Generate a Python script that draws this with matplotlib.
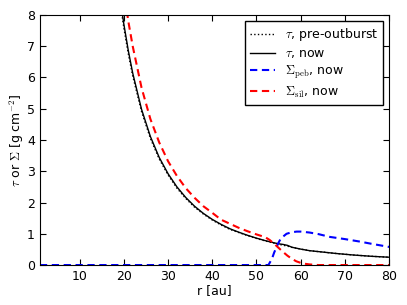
import matplotlib
matplotlib.use('Agg')
import matplotlib.pyplot as plt

# values
r_tau = [18, 19, 20, 21, 22, 24, 26, 28, 30, 32, 34, 36, 38, 40, 42, 44, 46, 48, 50,
         52, 54, 55, 56, 57, 58, 60, 62, 64, 66, 68, 70, 72, 74, 76, 78, 80]
tau_now = [9.9, 8.7, 7.7, 6.86, 6.14, 4.98, 4.11, 3.44, 2.92, 2.50, 2.16, 1.88, 1.65, 1.46,
           1.30, 1.16, 1.05, 0.95, 0.86, 0.78, 0.71, 0.68, 0.66, 0.63, 0.57, 0.51, 0.46,
           0.43, 0.40, 0.37, 0.345, 0.32, 0.30, 0.28, 0.265, 0.25]
tau_pre = [9.75, 8.57, 7.58, 6.76, 6.05, 4.91, 4.05, 3.39, 2.88, 2.46, 2.13, 1.85, 1.63, 1.44,
           1.28, 1.14, 1.04, 0.94, 0.85, 0.77, 0.70, 0.665, 0.635, 0.605, 0.565, 0.51, 0.46,
           0.43, 0.40, 0.37, 0.345, 0.32, 0.30, 0.28, 0.265, 0.25]

r_peb = [1, 10, 20, 30, 40, 50, 52.7, 53.5, 54, 54.9, 55.5, 56.8, 58, 59.1, 60, 62, 64,
         66.6, 70, 73.4, 76, 80]
sig_peb = [0, 0, 0, 0, 0, 0, 0, 0.2, 0.4, 0.69, 0.85, 1.0, 1.05, 1.07, 1.07, 1.04, 0.99,
           0.9, 0.83, 0.75, 0.68, 0.58]

r_sil = [20, 21, 22, 24, 26, 28, 30, 32, 34, 36, 38, 40, 42, 44, 46, 48, 50, 52, 53, 54,
         55, 56, 57, 58, 59, 60, 61, 62, 63, 64, 70, 80]
sig_sil = [8.8, 7.8, 7.0, 5.67, 4.67, 3.92, 3.32, 2.85, 2.46, 2.15, 1.88, 1.67, 1.45, 1.32,
           1.19, 1.08, 0.98, 0.89, 0.80, 0.68, 0.55, 0.42, 0.30, 0.20, 0.12, 0.07, 0.04,
           0.02, 0.01, 0.0, 0.0, 0.0]

plt.rcParams['mathtext.fontset'] = 'cm'
plt.rcParams['font.size'] = 9

fig = plt.figure(figsize=(4.07, 3.05), dpi=100)
ax = fig.add_axes([0.098, 0.131, 0.858, 0.820])

dash = (0, (3.5, 2.2))
ax.plot(r_tau, tau_pre, color='k', ls=':', lw=1.0, label=r'$\tau$, pre-outburst')
ax.plot(r_tau, tau_now, color='k', ls='-', lw=1.0, label=r'$\tau$, now')
ax.plot(r_peb, sig_peb, color='b', ls=dash, lw=1.5, label=r'$\Sigma_{\rm peb}$, now')
ax.plot(r_sil, sig_sil, color='r', ls=dash, lw=1.5, label=r'$\Sigma_{\rm sil}$, now')

ax.set_xlim(1, 80)
ax.set_ylim(0, 8)
ax.set_xticks([10, 20, 30, 40, 50, 60, 70, 80])
ax.set_yticks([0, 1, 2, 3, 4, 5, 6, 7, 8])
ax.tick_params(direction='in', top=True, right=True, length=4)
ax.set_xlabel('r [au]', labelpad=1)
ax.set_ylabel(r'$\tau$ or $\Sigma$ [g cm$^{-2}$]', labelpad=0.5)

leg = ax.legend(loc='upper right', fancybox=False, framealpha=1, handlelength=2,
                borderaxespad=0.5, labelspacing=0.3)
leg.get_frame().set_edgecolor('k')

fig.savefig('out.png', dpi=100)
